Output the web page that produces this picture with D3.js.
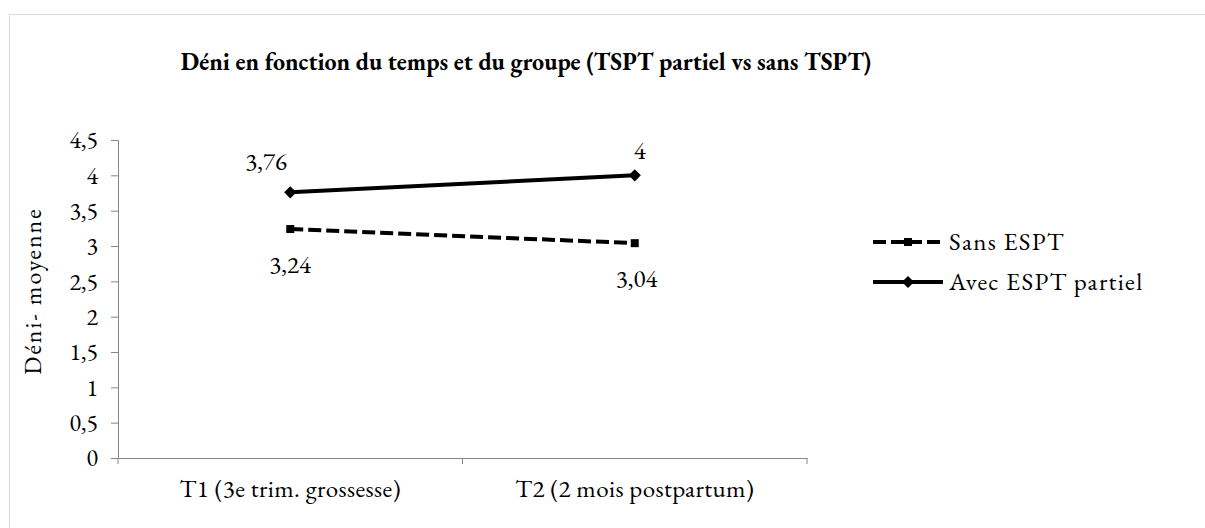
<!DOCTYPE html>
<html>
<head>
<meta charset="utf-8">
<script src="https://cdn.jsdelivr.net/npm/d3@7"></script>
<style>
  body { margin: 0; background: #fff; }
  svg text { font-family: "EB Garamond", "Liberation Serif", serif; font-variant-numeric: lining-nums; font-feature-settings: "lnum" 1; }
</style>
</head>
<body>
<div id="chart"></div>
<script>
// Data
const categories = ["T1 (3e trim. grossesse)", "T2 (2 mois postpartum)"];
const sansValues = [3.24, 3.04];
const avecValues = [3.76, 4];
const seriesNames = ["Sans ESPT", "Avec ESPT partiel"];
const yTicks = [0, 0.5, 1, 1.5, 2, 2.5, 3, 3.5, 4, 4.5];

const width = 1205, height = 528;
const margin = { top: 140, right: 398, bottom: 70, left: 118 };

const svg = d3.select("#chart").append("svg")
  .attr("width", width)
  .attr("height", height);

// chart frame
svg.append("rect")
  .attr("x", 9.5).attr("y", 14.5)
  .attr("width", 1205).attr("height", 540)
  .attr("fill", "#fff")
  .attr("stroke", "#d9d9d9");

const g = svg.append("g")
  .attr("transform", `translate(${margin.left}, ${margin.top})`);

const plotW = width - margin.left - margin.right,
  plotH = height - margin.top - margin.bottom;

// Scales
const x = d3.scaleBand().domain(categories).range([0, plotW]);
const y = d3.scaleLinear().domain([0, 4.5]).range([plotH, 0]);
const fmt = (d) => String(d).replace(".", ",");

// Title
svg.append("text")
  .attr("x", 526).attr("y", 70)
  .attr("text-anchor", "middle")
  .attr("font-weight", "bold")
  .attr("font-size", 24)
  .text("Déni en fonction du temps et du groupe (TSPT partiel vs sans TSPT)");

// y-axis
const yAxis = g.append("g")
  .call(d3.axisLeft(y).tickValues(yTicks).tickSize(7).tickFormat(fmt));
yAxis.attr("font-family", null);
yAxis.select(".domain").attr("stroke", "#868686");
yAxis.selectAll(".tick line").attr("stroke", "#868686");
yAxis.selectAll(".tick text")
  .attr("font-size", 24)
  .attr("fill", "#000")
  .attr("x", -20);

// x-axis
const xAxis = g.append("g")
  .attr("transform", `translate(0, ${plotH})`)
  .call(d3.axisBottom(x).tickSize(0).tickPadding(21));
xAxis.attr("font-family", null);
xAxis.select(".domain").attr("stroke", "#868686");
xAxis.selectAll(".tick text")
  .attr("font-size", 25)
  .attr("letter-spacing", 0.4)
  .attr("fill", "#000");
// boundary ticks between categories
g.append("g").selectAll("line")
  .data([0, 1, 2])
  .join("line")
  .attr("x1", (d) => d * x.bandwidth())
  .attr("x2", (d) => d * x.bandwidth())
  .attr("y1", plotH)
  .attr("y2", plotH + 6)
  .attr("stroke", "#868686");

// y label
svg.append("text")
  .attr("transform", "translate(41, 291) rotate(-90)")
  .attr("text-anchor", "middle")
  .attr("font-size", 24)
  .attr("letter-spacing", 2)
  .text("Déni- moyenne");

const cx = (i) => x(categories[i]) + x.bandwidth() / 2;

const line = d3.line()
  .x((d, i) => cx(i))
  .y((d) => y(d));

// Sans ESPT (dashed, squares)
g.append("path")
  .datum(sansValues)
  .attr("fill", "none")
  .attr("stroke", "#000")
  .attr("stroke-width", 4)
  .attr("stroke-dasharray", "13,5")
  .attr("d", line);
g.selectAll(".sq")
  .data(sansValues)
  .join("rect")
  .attr("class", "sq")
  .attr("x", (d, i) => cx(i) - 4)
  .attr("y", (d) => y(d) - 4)
  .attr("width", 8).attr("height", 8)
  .attr("fill", "#000");

// Avec ESPT partiel (solid, diamonds)
g.append("path")
  .datum(avecValues)
  .attr("fill", "none")
  .attr("stroke", "#000")
  .attr("stroke-width", 4)
  .attr("d", line);
const diamond = d3.symbol().type(d3.symbolDiamond2).size(95);
g.selectAll(".dm")
  .data(avecValues)
  .join("path")
  .attr("class", "dm")
  .attr("d", diamond)
  .attr("transform", (d, i) => `translate(${cx(i)}, ${y(d)})`)
  .attr("fill", "#000");

// data labels
const avecOffsets = [[-24, -22], [5, -16]];
const sansOffsets = [[0, 44], [2, 44]];
g.selectAll(".lblA")
  .data(avecValues)
  .join("text")
  .attr("x", (d, i) => cx(i) + avecOffsets[i][0])
  .attr("y", (d, i) => y(d) + avecOffsets[i][1])
  .attr("text-anchor", "middle")
  .attr("font-size", 25)
  .text(fmt);
g.selectAll(".lblS")
  .data(sansValues)
  .join("text")
  .attr("x", (d, i) => cx(i) + sansOffsets[i][0])
  .attr("y", (d, i) => y(d) + sansOffsets[i][1])
  .attr("text-anchor", "middle")
  .attr("font-size", 25)
  .text(fmt);

// Legend
const legend = svg.append("g").attr("transform", "translate(873, 242)");
const items = legend.selectAll("g")
  .data(seriesNames)
  .join("g")
  .attr("transform", (d, i) => `translate(0, ${i * 40})`);
items.append("line")
  .attr("x1", 0).attr("x2", 70)
  .attr("stroke", "#000")
  .attr("stroke-width", 4)
  .attr("stroke-dasharray", (d, i) => (i === 0 ? "13,5" : null));
items.filter((d, i) => i === 0).append("rect")
  .attr("x", 31).attr("y", -4).attr("width", 8).attr("height", 8)
  .attr("fill", "#000");
items.filter((d, i) => i === 1).append("path")
  .attr("d", diamond)
  .attr("transform", "translate(35, 0)")
  .attr("fill", "#000");
items.append("text")
  .attr("x", 76)
  .attr("dy", "0.33em")
  .attr("font-size", 25)
  .attr("letter-spacing", 1.3)
  .text((d) => d);
</script>
</body>
</html>
